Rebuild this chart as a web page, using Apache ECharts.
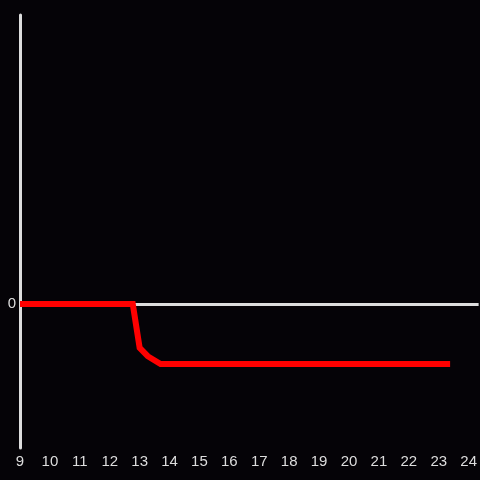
<!DOCTYPE html>
<html>
<head>
<meta charset="utf-8">
<script src="https://cdn.jsdelivr.net/npm/echarts@6/dist/echarts.min.js"></script>
<style>
  html, body { margin: 0; padding: 0; background: #050307; }
  #chart { width: 480px; height: 480px; }
</style>
</head>
<body>
<div id="chart"></div>
<script>
// values
const xValues = [9, 12.77, 13.0, 13.27, 13.7, 23.38];
const yValues = [0, 0, -0.73, -0.87, -1, -1];
const xTicks = [9, 10, 11, 12, 13, 14, 15, 16, 17, 18, 19, 20, 21, 22, 23, 24];

const chart = echarts.init(document.getElementById('chart'));

chart.setOption({
  backgroundColor: '#050307',
  animation: false,
  grid: { left: 20, right: 0, top: 15, bottom: 32 },
  xAxis: {
    type: 'value',
    min: 9,
    max: 9 + 460 / 30,
    interval: 1,
    axisLine: { show: false },
    axisTick: { show: false },
    splitLine: { show: false },
    axisLabel: {
      color: '#dddddd',
      fontSize: 15,
      fontFamily: 'Liberation Sans',
      margin: 6,
      showMaxLabel: false,
      formatter: v => (xTicks.includes(v) ? String(v) : '')
    }
  },
  yAxis: {
    type: 'value',
    min: -144 / 60,
    max: 289 / 60,
    axisLine: { show: true, onZero: false, lineStyle: { color: '#dddddd', width: 3 } },
    axisTick: { show: false },
    splitLine: { show: false },
    axisLabel: {
      color: '#dddddd',
      fontSize: 15,
      fontFamily: 'Liberation Sans',
      margin: 4,
      showMinLabel: false,
      showMaxLabel: false,
      formatter: v => (v === 0 ? '0' : '')
    }
  },
  series: [
    {
      type: 'line',
      data: xValues.map((x, i) => [x, yValues[i]]),
      showSymbol: false,
      lineStyle: { color: '#ff0000', width: 6, cap: 'butt', join: 'miter' },
      z: 3,
      markLine: {
        silent: true,
        symbol: 'none',
        label: { show: false },
        lineStyle: { color: '#dddddd', width: 3, type: 'solid' },
        z: 1,
        data: [{ yAxis: 0 }]
      }
    }
  ]
});
</script>
</body>
</html>
